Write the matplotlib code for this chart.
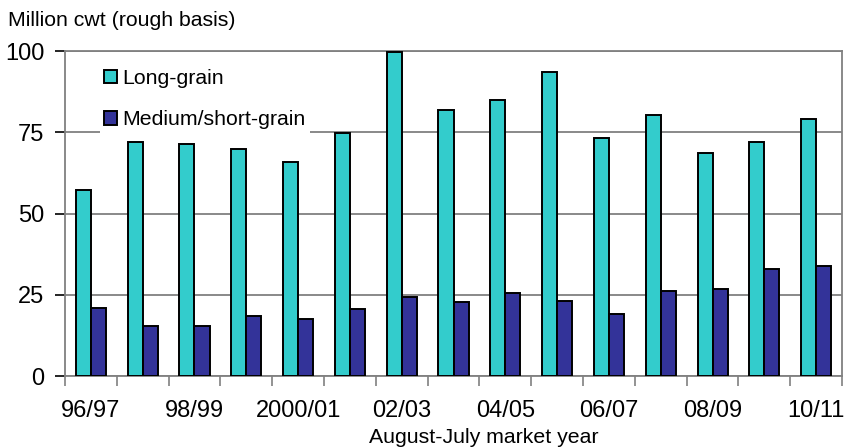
import numpy as np
import matplotlib.pyplot as plt
from matplotlib.patches import Patch

years = ['96/97', '97/98', '98/99', '99/2000', '2000/01', '01/02', '02/03', '03/04',
         '04/05', '05/06', '06/07', '07/08', '08/09', '09/10', '10/11']
long_grain = [57.2, 72.1, 71.3, 70.0, 65.8, 74.7, 99.8, 81.8, 84.9, 93.6, 73.1, 80.3, 68.7, 71.9, 79.1]
medium_short = [20.8, 15.4, 15.3, 18.5, 17.6, 20.5, 24.2, 22.7, 25.4, 23.2, 19.1, 26.1, 26.7, 32.8, 33.9]
shown_labels = ['96/97', '', '98/99', '', '2000/01', '', '02/03', '', '04/05', '', '06/07', '', '08/09', '', '10/11']

plt.rcParams['font.family'] = ['Liberation Sans', 'DejaVu Sans']

fig = plt.figure(figsize=(8.45, 4.47), dpi=100)
ax = fig.add_axes([0.0769, 0.1588, 0.9196, 0.7271])

x = np.arange(len(years))
w = 0.29
c_long = '#33CCCC'
c_med = '#333399'
ax.bar(x - w / 2, long_grain, w, color=c_long, edgecolor='black', linewidth=1.4, zorder=3)
ax.bar(x + w / 2, medium_short, w, color=c_med, edgecolor='black', linewidth=1.4, zorder=3)

ax.set_xlim(-0.5, len(years) - 0.5)
ax.set_ylim(0, 100)
ax.set_yticks([0, 25, 50, 75, 100])
ax.yaxis.grid(True, color='#808080', linewidth=1.3, zorder=0)
ax.set_axisbelow(True)

# category boundaries get the tick marks, labels sit at the centres
ax.set_xticks(np.arange(-0.5, len(years) + 0.5, 1))
ax.set_xticklabels([])
ax.set_xticks(x, minor=True)
ax.set_xticklabels(shown_labels, minor=True)
ax.tick_params(axis='x', which='major', length=7, width=1.2, color='#808080', direction='out')
ax.tick_params(axis='x', which='minor', length=0, pad=17, labelsize=17)
ax.tick_params(axis='y', length=7, width=1.2, color='black', labelsize=17, pad=8)

for s in ['top', 'right', 'left', 'bottom']:
    ax.spines[s].set_color('#808080')
    ax.spines[s].set_linewidth(1.3)

handles = [Patch(facecolor=c_long, edgecolor='black', linewidth=1.4),
           Patch(facecolor=c_med, edgecolor='black', linewidth=1.4)]
leg = ax.legend(handles, ['Long-grain', 'Medium/short-grain'], loc='upper left',
                bbox_to_anchor=(0.031, 0.99), fontsize=15.3, handlelength=0.6,
                handleheight=0.6, handletextpad=0.25, labelspacing=1.05,
                frameon=True, framealpha=1, facecolor='white', edgecolor='none',
                fancybox=False, borderpad=0.2)
leg.set_zorder(5)

fig.text(0.009, 0.955, 'Million cwt (rough basis)', fontsize=15.3, va='center', ha='left')
fig.text(0.572, 0.022, 'August-July market year', fontsize=15.3, va='center', ha='center')

fig.savefig('out.png', dpi=100)
